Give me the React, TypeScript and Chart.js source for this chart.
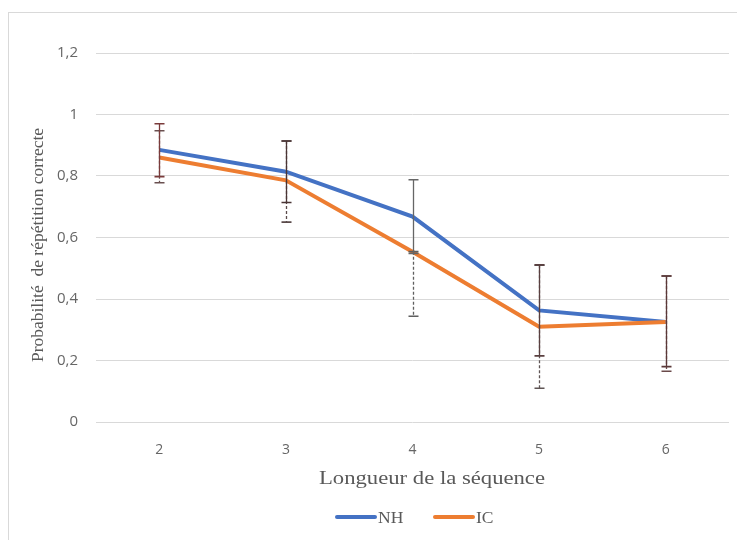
import React, { useEffect, useRef } from "react";
import { Chart, registerables } from "chart.js";

Chart.register(...registerables);

const categories = ["2", "3", "4", "5", "6"];
const nhValues = [0.885, 0.814, 0.668, 0.363, 0.325];
const icValues = [0.86, 0.786, 0.554, 0.31, 0.325];
const nhErrPlus = [0.085, 0.1, 0.12, 0.148, 0.15];
const nhErrMinus = [0.087, 0.1, 0.12, 0.148, 0.145];
const icErrPlus = [0.087, 0.128, 0.0, 0.2, 0.15];
const icErrMinus = [0.082, 0.136, 0.21, 0.2, 0.16];
const yTicks = [0, 0.2, 0.4, 0.6, 0.8, 1, 1.2];
const seriesNames = ["NH", "IC"];
const xTitle = "Longueur de la séquence";
const yTitle = "Probabilité  de répétition correcte";

const BLUE = "#4472C4";
const ORANGE = "#ED7D31";
const SERIF = '"Liberation Serif", "DejaVu Serif", serif';
const SANS = '"Open Sans", "Noto Sans", sans-serif';
const TEXT = "#595959";

const errorBarPlugin = {
  id: "errorBars",
  afterDatasetsDraw(chart: any) {
    const ctx = chart.ctx;
    const xs = chart.scales.x;
    const ys = chart.scales.y;
    const specs = [
      { vals: icValues, plus: icErrPlus, minus: icErrMinus, dash: [3, 2], colors: ["#6a5050", "#5a4a4a", "#5f5f5f", "#5f5555", "#6a4a4a"] },
      { vals: nhValues, plus: nhErrPlus, minus: nhErrMinus, dash: [], colors: ["#7a3b3b", "#4a3535", "#666666", "#5a4040", "#5a3838"] },
    ];
    ctx.save();
    for (const s of specs) {
      s.vals.forEach((v, i) => {
        const x = Math.round(xs.getPixelForValue(i)) + 0.5;
        const yt = ys.getPixelForValue(v + s.plus[i]);
        const yb = ys.getPixelForValue(v - s.minus[i]);
        ctx.strokeStyle = s.colors[i];
        ctx.lineWidth = 1.3;
        ctx.setLineDash(s.dash);
        ctx.beginPath();
        ctx.moveTo(x, yt);
        ctx.lineTo(x, yb);
        ctx.stroke();
        ctx.setLineDash([]);
        ctx.lineWidth = 1.6;
        ctx.beginPath();
        ctx.moveTo(x - 5, yt);
        ctx.lineTo(x + 5, yt);
        ctx.moveTo(x - 5, yb);
        ctx.lineTo(x + 5, yb);
        ctx.stroke();
      });
    }
    ctx.restore();
  },
};

const titlesPlugin = {
  id: "titlesLegend",
  afterDraw(chart: any) {
    const ctx = chart.ctx;
    ctx.save();
    ctx.fillStyle = TEXT;
    ctx.font = `18px ${SERIF}`;
    ctx.textAlign = "center";
    ctx.textBaseline = "middle";
    const w = ctx.measureText(xTitle).width;
    ctx.save();
    ctx.translate(432, 479);
    ctx.scale(226 / w, 1);
    ctx.fillText(xTitle, 0, 0);
    ctx.restore();
    ctx.font = `17.5px ${SERIF}`;
    ctx.save();
    ctx.translate(38, 245);
    ctx.rotate(-Math.PI / 2);
    ctx.fillText(yTitle, 0, 0);
    ctx.restore();
    const items = [
      { name: seriesNames[0], color: BLUE, x: 335 },
      { name: seriesNames[1], color: ORANGE, x: 433 },
    ];
    ctx.textAlign = "left";
    ctx.font = `17.5px ${SERIF}`;
    for (const it of items) {
      ctx.strokeStyle = it.color;
      ctx.lineWidth = 4;
      ctx.lineCap = "round";
      ctx.beginPath();
      ctx.moveTo(it.x + 2, 517);
      ctx.lineTo(it.x + 40, 517);
      ctx.stroke();
      ctx.fillStyle = TEXT;
      ctx.fillText(it.name, it.x + 43, 518);
    }
    ctx.restore();
  },
};

export default function App() {
  const ref = useRef<HTMLCanvasElement>(null);
  useEffect(() => {
    if (!ref.current) return;
    const chart = new Chart(ref.current, {
      type: "line",
      data: {
        labels: categories,
        datasets: [
          { label: seriesNames[0], data: nhValues, borderColor: BLUE, backgroundColor: BLUE, borderWidth: 4, pointRadius: 0, tension: 0, fill: false, order: 1 },
          { label: seriesNames[1], data: icValues, borderColor: ORANGE, backgroundColor: ORANGE, borderWidth: 4, pointRadius: 0, tension: 0, fill: false, order: 0 },
        ],
      },
      options: {
        animation: false,
        responsive: false,
        layout: { padding: { top: 53, right: 8, left: 0, bottom: 0 } },
        plugins: { legend: { display: false }, tooltip: { enabled: false } },
        scales: {
          x: {
            offset: true,
            grid: { display: false },
            border: { display: false },
            ticks: { color: "#666", font: { family: SANS, size: 14 }, padding: 12 },
            afterFit: (s: any) => { s.height = 118; },
          },
          y: {
            min: 0,
            max: 1.2,
            afterBuildTicks: (s: any) => { s.ticks = yTicks.map((v) => ({ value: v })); },
            grid: { color: "#d9d9d9", drawTicks: false, lineWidth: 1 },
            border: { display: false },
            ticks: {
              color: "#666",
              font: { family: SANS, size: 15 },
              padding: 18,
              callback: (v: any) => String(Math.round(Number(v) * 10) / 10).replace(".", ","),
            },
            afterFit: (s: any) => { s.width = 96; },
          },
        },
      },
      plugins: [errorBarPlugin, titlesPlugin],
    });
    return () => chart.destroy();
  }, []);

  return (
    <div style={{ position: "fixed", left: 0, top: 0, width: 737, height: 540, overflow: "hidden", background: "#fff" }}>
      <div style={{ position: "absolute", left: 8, top: 12, width: 800, height: 600, border: "1px solid #d9d9d9", boxSizing: "border-box" }} />
      <canvas ref={ref} width={737} height={540} style={{ position: "absolute", left: 0, top: 0, width: 737, height: 540 }} />
    </div>
  );
}
